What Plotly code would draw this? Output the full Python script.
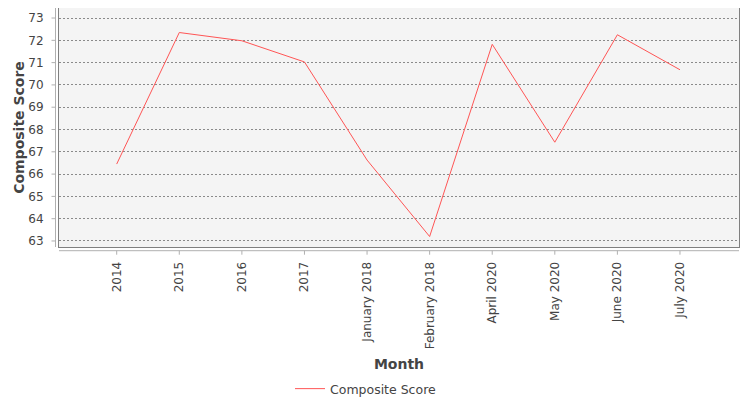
import plotly.graph_objects as go

months = ["2014", "2015", "2016", "2017", "January 2018", "February 2018",
          "April 2020", "May 2020", "June 2020", "July 2020"]
scores = [66.45, 72.35, 71.98, 71.03, 66.63, 63.2, 71.82, 67.43, 72.25, 70.68]
y_ticks = list(range(63, 74))

# the page body adds an 8px offset, so margins are measured from there
W, H = 750, 400
ML, MR, MT, MB = 51, 19, 0, 161
PW, PH = W - ML - MR, H - MT - MB

FONT = "DejaVu Sans"
TXT = "#444444"
AXIS = "#b0b0b0"

fig = go.Figure()
fig.add_trace(go.Scatter(
    x=list(range(len(months))), y=scores, mode="lines",
    name="Composite Score",
    line=dict(color="#ff5555", width=1),
))

# offset axis lines (JFreeChart style)
gx = -3.5 / PW
gy = -3.7 / PH
shapes = [
    dict(type="line", xref="paper", yref="paper", x0=0, x1=1, y0=gy, y1=gy,
         line=dict(color=AXIS, width=1)),
    dict(type="line", xref="paper", yref="paper", x0=gx, x1=gx, y0=0, y1=1,
         line=dict(color=AXIS, width=1)),
]
for i in range(len(months)):
    shapes.append(dict(type="line", xref="x", yref="paper", x0=i, x1=i,
                       y0=gy, y1=gy - 4 / PH, line=dict(color=AXIS, width=1)))
for v in y_ticks:
    shapes.append(dict(type="line", xref="paper", yref="y", x0=gx, x1=gx - 4 / PW,
                       y0=v, y1=v, line=dict(color=AXIS, width=1)))

fig.update_layout(
    width=W, height=H,
    margin=dict(l=ML, r=MR, t=MT, b=MB, pad=0, autoexpand=False),
    paper_bgcolor="white",
    plot_bgcolor="#f4f4f4",
    font=dict(family=FONT, size=12, color=TXT),
    shapes=shapes,
    showlegend=True,
    legend=dict(orientation="h", x=(282 - ML) / PW, xanchor="left",
                y=-(366 - MT - PH) / PH, yanchor="top",
                font=dict(family=FONT, size=12.5, color=TXT),
                bgcolor="rgba(0,0,0,0)", borderwidth=0,
                itemwidth=30),
    xaxis=dict(
        range=[-0.922, 9.943], automargin=False,
        tickmode="array", tickvals=list(range(len(months))), ticktext=months,
        tickangle=-90, ticks="outside", ticklen=9, tickcolor="rgba(0,0,0,0)",
        tickfont=dict(family=FONT, size=12, color=TXT),
        showgrid=False, zeroline=False, showline=True, linecolor="#808080",
        mirror=True, linewidth=1,
        title=dict(text="<b>Month</b>", font=dict(family=FONT, size=14, color=TXT),
                   standoff=10),
    ),
    yaxis=dict(
        range=[62.73, 73.45], automargin=False,
        tickmode="array", tickvals=y_ticks,
        ticks="outside", ticklen=12, tickcolor="rgba(0,0,0,0)",
        tickfont=dict(family=FONT, size=12, color=TXT),
        showgrid=True, gridcolor="#8a8a8a", griddash="2px,2px", gridwidth=1,
        zeroline=False, showline=True, linecolor="#808080", mirror=True, linewidth=1,
        title=dict(text="<b>Composite Score</b>", font=dict(family=FONT, size=14, color=TXT),
                   standoff=0),
    ),
)

fig.write_html("out.html")
